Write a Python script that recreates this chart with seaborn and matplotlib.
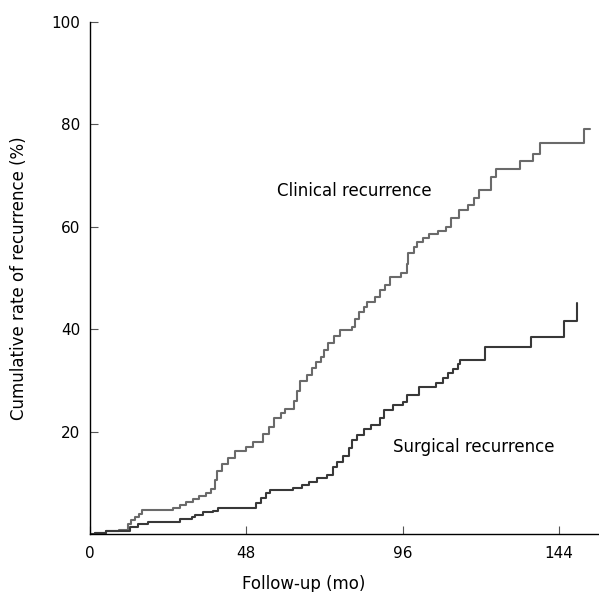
import pandas as pd
import seaborn as sns
import matplotlib.pyplot as plt

# Step data (time in months, cumulative %)
clinical_time = [0, 1.5, 5, 9, 11.7, 12.6, 13.8, 15, 16, 25.5, 27.5, 29.5, 31.5, 33.5, 35.5,
                 37, 38.5, 39, 40.5, 42.5, 44.5, 48, 50, 53, 55, 56.5, 58.5, 60, 62.5, 63.5,
                 64.5, 66.5, 68.3, 69.5, 70.8, 72, 73.2, 75, 76.9, 80.5, 81.5, 82.5, 84, 85.2,
                 87.5, 89.2, 90.5, 92, 95.5, 97.2, 97.8, 99.5, 100.5, 102.2, 104, 106.8, 109.2,
                 110.8, 113.2, 116, 117.8, 119.4, 123.1, 124.6, 132, 136, 138.2, 151.7, 153.5]
clinical_rate = [0, 0.2, 0.6, 0.8, 2.0, 2.8, 3.4, 4.0, 4.6, 5.1, 5.7, 6.3, 6.8, 7.4, 8.0,
                 8.8, 10.5, 12.3, 13.6, 14.8, 16.2, 17.0, 18.0, 19.6, 20.8, 22.6, 23.6, 24.5,
                 26.0, 28.0, 29.8, 31.0, 32.4, 33.5, 34.6, 36.0, 37.3, 38.6, 39.8, 40.5, 42.0,
                 43.3, 44.3, 45.3, 46.3, 47.6, 48.6, 50.1, 50.9, 52.8, 54.8, 56.0, 57.0, 57.8,
                 58.5, 59.2, 60.0, 61.7, 63.2, 64.2, 65.6, 67.1, 69.7, 71.2, 72.8, 74.3, 76.3,
                 79.0, 79.0]

surgical_time = [0, 1.5, 5, 12.3, 14.8, 17.8, 27.7, 31.4, 32.3, 34.8, 37.8, 39.4, 51.0, 52.5,
                 54, 55.4, 62.2, 65.2, 67.1, 69.8, 72.9, 74.5, 76, 77.8, 79.4, 80.6, 82.1, 84,
                 86.2, 89.2, 90.2, 92.9, 96, 97.5, 100.9, 106.2, 108.3, 109.8, 111.4, 112.9,
                 113.5, 121.2, 135.4, 145.5, 149.5]
surgical_rate = [0, 0.2, 0.6, 1.4, 2.0, 2.3, 2.9, 3.3, 3.7, 4.3, 4.5, 5.0, 6.0, 7.0, 8.0, 8.6,
                 9.0, 9.6, 10.1, 11.0, 11.6, 13.1, 14.1, 15.3, 16.8, 18.3, 19.3, 20.5, 21.3,
                 22.6, 24.2, 25.2, 25.8, 27.1, 28.7, 29.5, 30.4, 31.4, 32.2, 33.2, 34.0, 36.5,
                 38.4, 41.6, 45.1]

groups = ['Clinical recurrence', 'Surgical recurrence']
x_ticks = [0, 48, 96, 144]
y_ticks = [20, 40, 60, 80, 100]

df = pd.concat([
    pd.DataFrame({'time': clinical_time, 'rate': clinical_rate, 'group': groups[0]}),
    pd.DataFrame({'time': surgical_time, 'rate': surgical_rate, 'group': groups[1]}),
])

sns.set_style('ticks')
plt.rcParams['font.family'] = ['DejaVu Sans']
plt.rcParams['text.color'] = 'black'
plt.rcParams['axes.labelcolor'] = 'black'
plt.rcParams['xtick.color'] = 'black'
plt.rcParams['ytick.color'] = 'black'

fig = plt.figure(figsize=(5.99, 5.92), dpi=100)
ax = fig.add_axes([0.1503, 0.098, 0.848, 0.865])

sns.lineplot(data=df, x='time', y='rate', hue='group', estimator=None, sort=False,
             palette={groups[0]: '#6a6a6a', groups[1]: '#383838'},
             drawstyle='steps-post', linewidth=1.5, legend=False, ax=ax)

ax.set_xlim(0, 156)
ax.set_ylim(0, 100)
ax.set_xticks(x_ticks)
ax.set_yticks(y_ticks)
ax.tick_params(direction='in', length=6, width=0.8, labelsize=11, pad=7)
ax.tick_params(axis='x', colors='#555555', labelcolor='black')
ax.tick_params(axis='y', colors='#555555', labelcolor='black')
ax.xaxis.set_tick_params(pad=9)
sns.despine(ax=ax)
for s in ['left', 'bottom']:
    ax.spines[s].set_linewidth(1.0)
    ax.spines[s].set_color('black')

ax.set_xlabel('Follow-up (mo)', fontsize=12)
ax.set_ylabel('Cumulative rate of recurrence (%)', fontsize=12)
ax.xaxis.set_label_coords(0.42, -0.08)
ax.yaxis.set_label_coords(-0.122, 0.5)

ax.text(57.5, 67.0, groups[0], fontsize=12, va='center', ha='left')
ax.text(92.9, 17.0, groups[1], fontsize=12, va='center', ha='left')

fig.savefig('out.png', dpi=100)
